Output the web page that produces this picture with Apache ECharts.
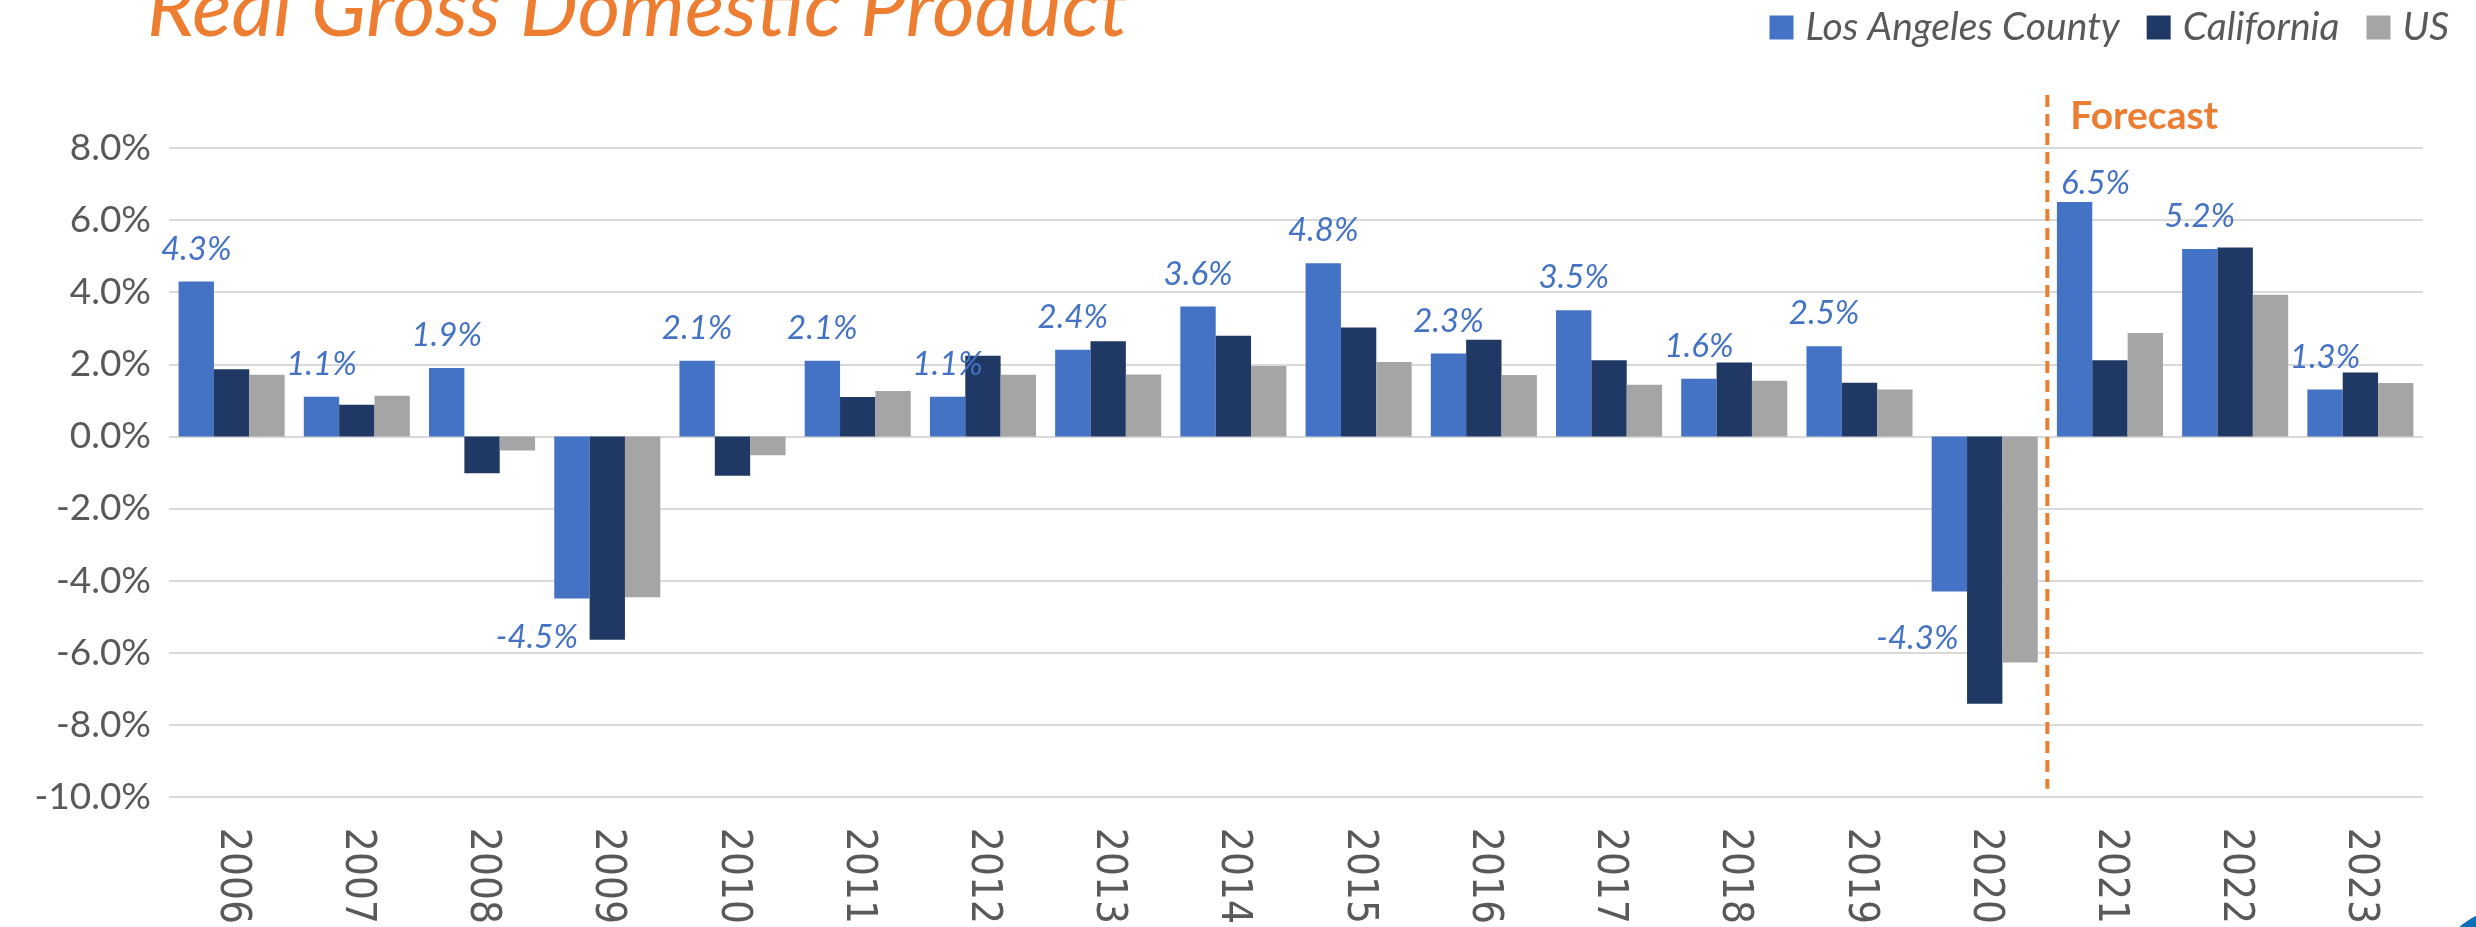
<!DOCTYPE html>
<html>
<head>
<meta charset="utf-8">
<title>Real Gross Domestic Product</title>
<script src="https://cdn.jsdelivr.net/npm/echarts@6/dist/echarts.min.js"></script>
<style>
    html, body {
        margin: 0;
        padding: 0;
        background: #fff;
    }

    .chartBox {
        width: 2476px;
        height: 927px
    }
</style>
</head>
<body>
<div class="chartBox" id="gdpChart"></div>
<script>
    // values (annual % change)
    const years = ['2006', '2007', '2008', '2009', '2010', '2011', '2012', '2013', '2014',
        '2015', '2016', '2017', '2018', '2019', '2020', '2021', '2022', '2023'];
    const laCounty = [4.3, 1.1, 1.9, -4.5, 2.1, 2.1, 1.1, 2.4, 3.6,
        4.8, 2.3, 3.5, 1.6, 2.5, -4.3, 6.5, 5.2, 1.3];
    const california = [1.86, 0.88, -1.02, -5.64, -1.09, 1.09, 2.24, 2.64, 2.79,
        3.02, 2.68, 2.11, 2.05, 1.49, -7.42, 2.11, 5.24, 1.77];
    const us = [1.71, 1.13, -0.39, -4.46, -0.52, 1.26, 1.71, 1.72, 1.95,
        2.06, 1.70, 1.43, 1.54, 1.30, -6.27, 2.87, 3.93, 1.48];
    const yTicks = [-10, -8, -6, -4, -2, 0, 2, 4, 6, 8];
    const forecastFrom = '2021';

    const font = 'Lato, "Open Sans", sans-serif';
    const grey = '#595959';
    const orange = '#ED7D31';

    // hand placed labels in the original slide
    const labelNudge = {
        '2009': {position: 'bottom', offset: [-35, 6]},
        '2020': {position: 'bottom', offset: [-32, 14]},
        '2021': {position: 'top', offset: [21, 14]}
    };

    const laData = laCounty.map((v, i) => {
        const n = labelNudge[years[i]];
        if (n) {
            return {value: v, label: {position: n.position, offset: n.offset}};
        }
        return v;
    });

    const e = echarts.init(document.getElementById('gdpChart'));
    e.setOption({
        animation: false,
        title: {
            text: 'Real Gross Domestic Product',
            left: 142,
            top: -36,
            textStyle: {
                color: orange,
                fontFamily: font,
                fontStyle: 'italic',
                fontWeight: 'normal',
                fontSize: 82
            }
        },
        legend: {
            data: ['Los Angeles County', 'California', 'US'],
            right: 22,
            top: 3,
            icon: 'rect',
            itemWidth: 24,
            itemHeight: 24,
            itemGap: 27,
            textStyle: {
                color: grey,
                fontFamily: font,
                fontStyle: 'italic',
                fontSize: 39,
                padding: [0, 0, 0, 7]
            }
        },
        grid: {
            left: 169,
            right: 53,
            top: 148,
            bottom: 118
        },
        xAxis: {
            type: 'category',
            data: years,
            axisLine: {show: false, onZero: false},
            axisTick: {show: false},
            axisLabel: {
                interval: 0,
                rotate: -90,
                margin: 31,
                color: grey,
                fontFamily: '"Liberation Sans Narrow", "DejaVu Sans Condensed", sans-serif',
                fontSize: 42
            }
        },
        yAxis: {
            type: 'value',
            min: yTicks[0],
            max: yTicks[yTicks.length - 1],
            interval: yTicks[1] - yTicks[0],
            axisLine: {show: false},
            axisTick: {show: false},
            splitLine: {lineStyle: {color: '#D9D9D9', width: 2}},
            axisLabel: {
                margin: 18,
                color: grey,
                fontFamily: font,
                fontSize: 37,
                formatter: v => v.toFixed(1) + '%'
            }
        },
        series: [
            {
                name: 'Los Angeles County',
                type: 'bar',
                barGap: '0%',
                barCategoryGap: '15.3%',
                itemStyle: {color: '#4472C4'},
                label: {
                    show: true,
                    position: 'top',
                    distance: 16,
                    color: '#4472C4',
                    fontFamily: font,
                    fontStyle: 'italic',
                    fontSize: 33,
                    formatter: p => p.value.toFixed(1) + '%'
                },
                data: laData
            },
            {
                name: 'California',
                type: 'bar',
                barGap: '0%',
                barCategoryGap: '15.3%',
                itemStyle: {color: '#203864'},
                data: california
            },
            {
                name: 'US',
                type: 'bar',
                barGap: '0%',
                barCategoryGap: '15.3%',
                itemStyle: {color: '#A5A5A5'},
                data: us
            }
        ]
    });

    // forecast divider sits on the boundary between 2020 and 2021
    const idx = years.indexOf(forecastFrom);
    const a = e.convertToPixel({seriesIndex: 0}, [years[idx - 1], 0]);
    const b = e.convertToPixel({seriesIndex: 0}, [years[idx], 0]);
    const topY = e.convertToPixel({seriesIndex: 0}, [years[idx], yTicks[yTicks.length - 1]])[1];
    const botY = e.convertToPixel({seriesIndex: 0}, [years[idx], yTicks[0]])[1];
    const lineX = (a[0] + b[0]) / 2;
    e.setOption({
        graphic: [
            {
                type: 'line',
                shape: {x1: lineX, y1: topY - 53, x2: lineX, y2: botY - 8},
                style: {stroke: orange, lineWidth: 4, lineDash: [12, 7]},
                z: 10
            },
            {
                type: 'text',
                x: lineX + 23,
                y: topY - 51,
                style: {
                    text: 'Forecast',
                    fill: orange,
                    font: 'bold 39px ' + font,
                    textVerticalAlign: 'top'
                },
                z: 10
            },
            {
                // corner of the slide logo peeking in at bottom right
                type: 'circle',
                shape: {cx: 2520, cy: 1000, r: 95},
                style: {fill: '#0B6FB8'},
                z: 10
            }
        ]
    });
</script>
</body>
</html>
